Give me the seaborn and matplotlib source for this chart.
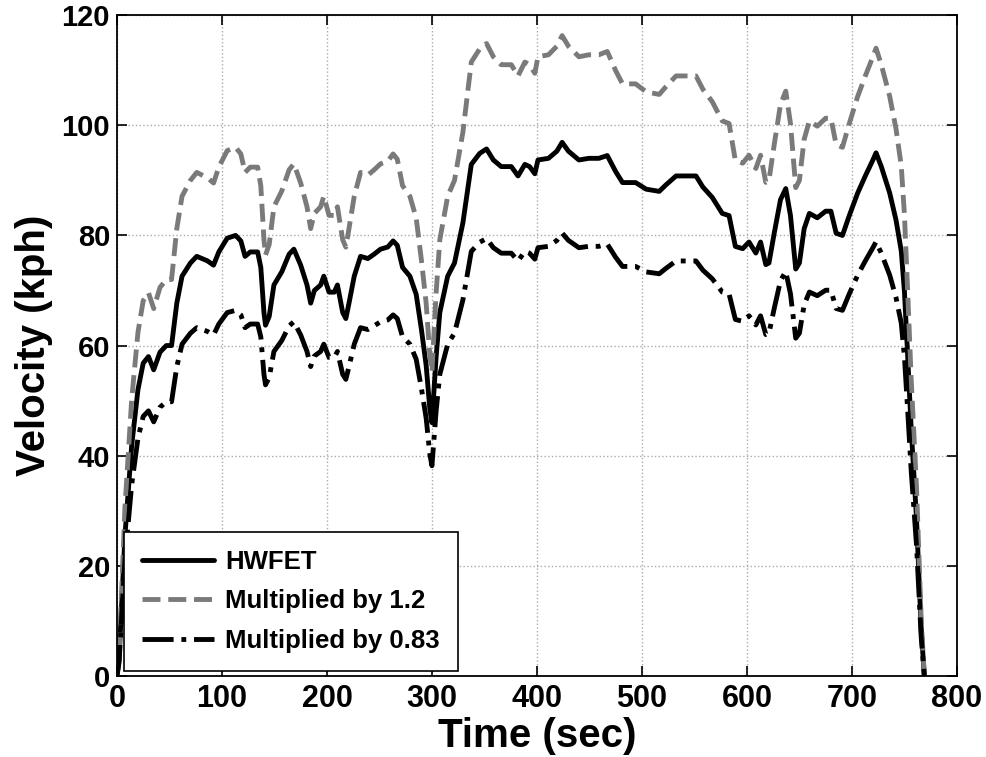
import pandas as pd
import seaborn as sns
import matplotlib.pyplot as plt

# HWFET speed trace (sec, kph)
time_s = [0, 2, 7.6, 14, 20, 25, 30, 35, 41, 47, 52, 57, 62, 70, 76, 86, 92, 97,
          105, 113, 118, 122, 127, 134, 137, 140, 141.5, 145, 149.5, 157, 164,
          168.5, 175, 181, 184.5, 188, 194, 197, 202, 207, 210, 215, 218, 221,
          226, 232, 239, 245, 251, 258, 263, 267, 272, 279, 285, 290, 294.5,
          298, 300, 304, 307.5, 315, 321.5, 329.5, 337.5, 345.5, 352, 358.5,
          366, 375.6, 382, 388.5, 393, 398, 401, 411, 419, 424, 430, 440,
          449.5, 459, 467, 475, 481.5, 494, 504, 516.5, 523, 532.5, 545, 551.5,
          558, 567, 576.5, 583, 589, 596, 602, 608.5, 613, 618, 621, 626, 632,
          637, 641.5, 646.5, 650, 654.5, 659.5, 667, 675, 680, 685, 691, 697.5,
          705.5, 713, 720, 723, 728, 736, 742, 747, 750, 753, 756.5, 761.5,
          766, 769]
hwfet_kph = [0, 3, 25.5, 41.8, 52, 56.8, 58, 55.6, 58.8, 60, 60, 67.7, 72.6, 75,
             76.2, 75.4, 74.6, 77, 79.5, 80, 79, 76.2, 77, 77, 74.2, 66, 63.7,
             65.3, 71, 73.4, 76.6, 77.5, 74.6, 71, 67.7, 70, 71, 72.6, 69.7,
             69.7, 71, 66, 64.9, 67.7, 72.6, 76.2, 75.8, 76.6, 77.5, 77.9, 79,
             78.2, 74.2, 72.6, 69.3, 62.9, 56.4, 48.5, 46, 58, 66, 72.6, 75,
             82.3, 92.9, 94.9, 95.7, 93.7, 92.5, 92.5, 90.8, 92.9, 92.5, 91.2,
             93.7, 94, 95.3, 96.9, 95.3, 93.7, 94, 94, 94.5, 91.6, 89.6, 89.6,
             88.4, 88, 89.2, 90.8, 90.8, 90.8, 88.8, 86.9, 84, 83.6, 78, 77.6,
             78.8, 76.8, 78.8, 74.7, 75, 80.4, 86.5, 88.5, 83.6, 73.9, 75, 81.2,
             84, 83.2, 84.4, 84.4, 80.4, 80, 83.6, 87.7, 90.9, 93.7, 95, 92.5,
             87.7, 82.8, 77.2, 69.9, 58.6, 44.8, 28.7, 8.5, 0]

series_names = ['HWFET', 'Multiplied by 1.2', 'Multiplied by 0.83']
factors = [1.0, 1.2, 0.83]
colors = ['black', '#7a7a7a', 'black']
styles = ['-', '--', '-.']

sns.set_style("ticks")
plt.rcParams['font.family'] = ['Liberation Sans', 'DejaVu Sans']
plt.rcParams['font.weight'] = 'bold'
plt.rcParams['text.color'] = 'black'
plt.rcParams['axes.labelcolor'] = 'black'
plt.rcParams['xtick.color'] = 'black'
plt.rcParams['ytick.color'] = 'black'

fig = plt.figure(figsize=(9.87, 7.57), dpi=100)
ax = fig.add_axes([0.1185, 0.107, 0.851, 0.873])

for name, f, c, ls in zip(series_names, factors, colors, styles):
    d = pd.DataFrame({'t': time_s, 'v': [v * f for v in hwfet_kph]})
    sns.lineplot(data=d, x='t', y='v', ax=ax, color=c, linestyle=ls,
                 linewidth=3.5, label=name, sort=False, estimator=None)

ax.set_xlim(0, 800)
ax.set_ylim(0, 120)
ax.set_xticks(range(0, 801, 100))
ax.set_yticks(range(0, 121, 20))
ax.grid(True, linestyle=':', color='#aaaaaa', linewidth=1)
ax.tick_params(direction='in', length=7, width=1.2, top=True, right=True)
ax.tick_params(axis='y', labelsize=21, pad=5)
ax.tick_params(axis='x', labelsize=22, pad=6)
for lab in ax.get_xticklabels() + ax.get_yticklabels():
    lab.set_fontweight('bold')
for s in ax.spines.values():
    s.set_linewidth(1.3)
    s.set_color('black')

ax.set_xlabel('Time (sec)', fontsize=29, fontweight='bold', labelpad=2)
ax.set_ylabel('Velocity (kph)', fontsize=29, fontweight='bold', labelpad=6)

leg = ax.legend(loc='lower left', bbox_to_anchor=(0.008, 0.008), fontsize=18.5,
                frameon=True, fancybox=False, handlelength=2.8,
                borderaxespad=0, borderpad=0.7, labelspacing=0.6,
                handletextpad=0.45)
leg.get_frame().set_edgecolor('black')
leg.get_frame().set_linewidth(1.2)
leg.get_frame().set_alpha(1)
for t in leg.get_texts():
    t.set_fontweight('bold')

fig.savefig('out.png', dpi=100)
